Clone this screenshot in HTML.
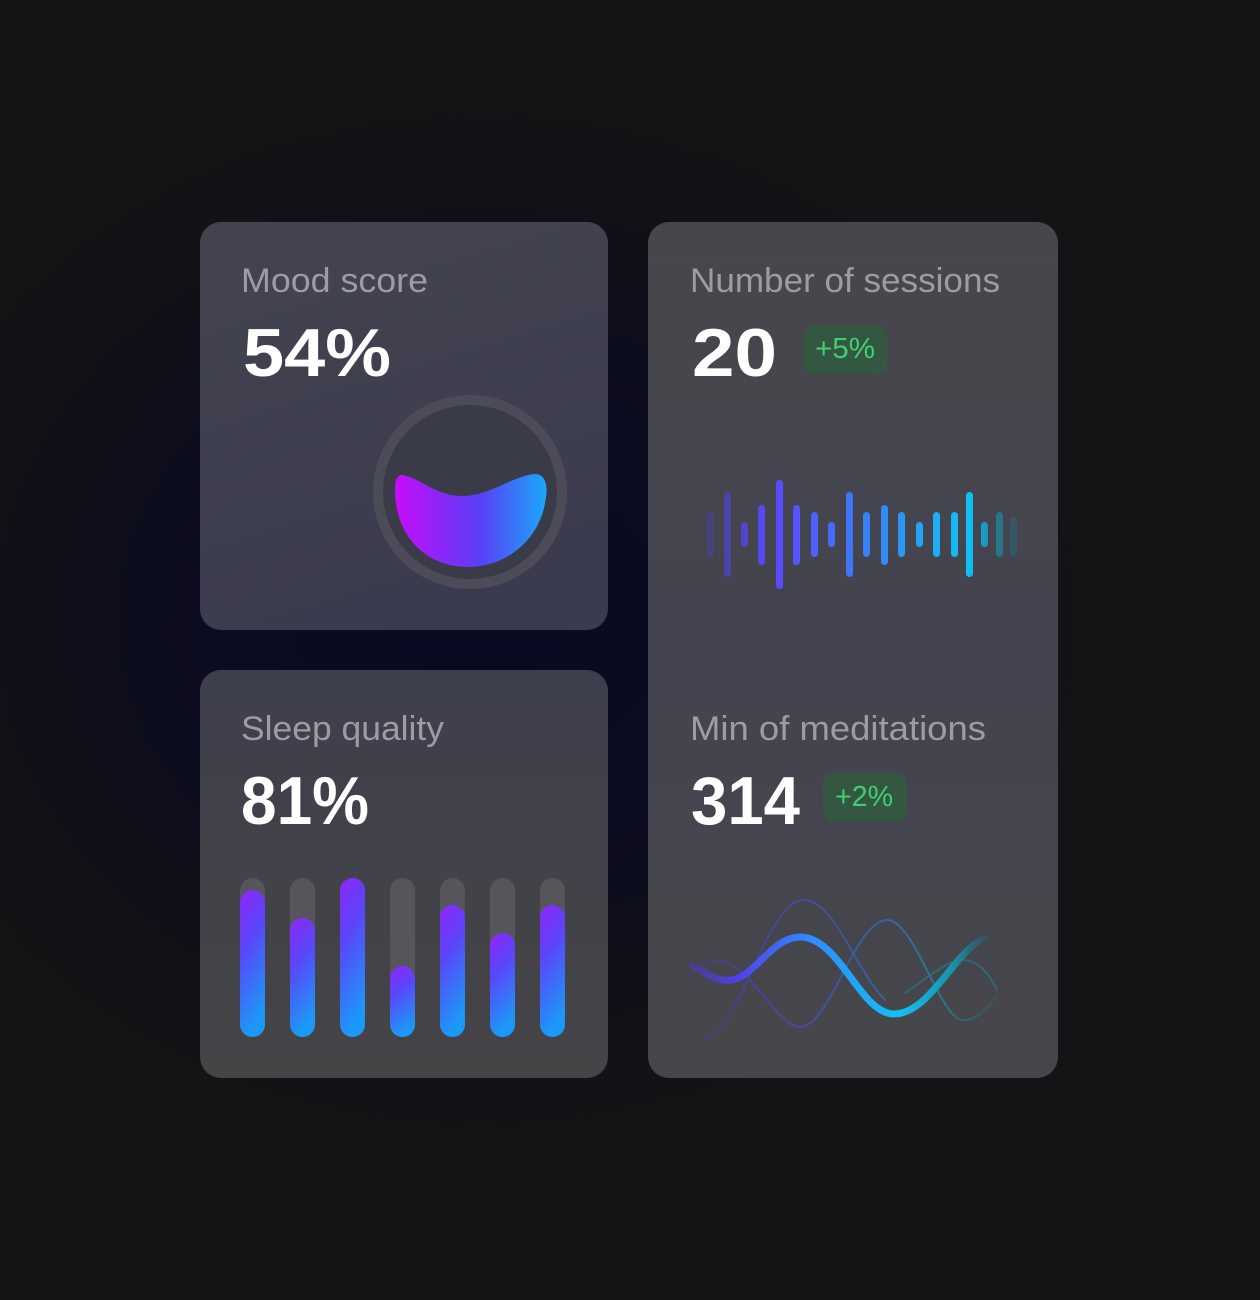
<!DOCTYPE html>
<html>
<head>
<meta charset="utf-8">
<style>
  html,body{margin:0;padding:0;background:#141416;}
  svg{display:block;}
  text{font-family:"Liberation Sans", sans-serif;}
</style>
</head>
<body>
<svg width="1260" height="1300" viewBox="0 0 1260 1300" xmlns="http://www.w3.org/2000/svg">
  <defs>
    <radialGradient id="bgGlow" cx="480" cy="620" r="620" gradientUnits="userSpaceOnUse" gradientTransform="translate(480 620) scale(1 0.85) translate(-480 -620)">
      <stop offset="0" stop-color="#080a22"/>
      <stop offset="0.45" stop-color="#0b0c1f"/>
      <stop offset="0.8" stop-color="#111118"/>
      <stop offset="1" stop-color="#141416"/>
    </radialGradient>
    <linearGradient id="card1" x1="0" y1="0" x2="0.3" y2="1">
      <stop offset="0" stop-color="#444450"/>
      <stop offset="1" stop-color="#3a3b4e"/>
    </linearGradient>
    <linearGradient id="card3" x1="0" y1="0" x2="0" y2="1">
      <stop offset="0" stop-color="#3e3f4c"/>
      <stop offset="1" stop-color="#454547"/>
    </linearGradient>
    <linearGradient id="card2" x1="0" y1="0" x2="0" y2="1">
      <stop offset="0" stop-color="#47474b"/>
      <stop offset="0.5" stop-color="#434450"/>
      <stop offset="1" stop-color="#46464a"/>
    </linearGradient>
    <linearGradient id="blob" x1="395" y1="0" x2="548" y2="0" gradientUnits="userSpaceOnUse">
      <stop offset="0" stop-color="#c70cfb"/>
      <stop offset="0.55" stop-color="#5a3ef6"/>
      <stop offset="1" stop-color="#18aaf9"/>
    </linearGradient>
    <linearGradient id="bar" x1="0" y1="0" x2="0.25" y2="1">
      <stop offset="0" stop-color="#9126fb"/>
      <stop offset="0.4" stop-color="#5a45f8"/>
      <stop offset="1" stop-color="#1c98f8"/>
    </linearGradient>
    <linearGradient id="wave" x1="705" y1="0" x2="1015" y2="0" gradientUnits="userSpaceOnUse">
      <stop offset="0" stop-color="#4a3fc8"/>
      <stop offset="0.25" stop-color="#5a4cff"/>
      <stop offset="0.5" stop-color="#3a7cf8"/>
      <stop offset="0.85" stop-color="#10c2f4"/>
      <stop offset="1" stop-color="#167f95"/>
    </linearGradient>
    <linearGradient id="mainLine" x1="690" y1="0" x2="990" y2="0" gradientUnits="userSpaceOnUse">
      <stop offset="0" stop-color="#4a3ac0" stop-opacity="0.5"/>
      <stop offset="0.15" stop-color="#5040e0"/>
      <stop offset="0.4" stop-color="#2f8bff"/>
      <stop offset="0.7" stop-color="#12c0f2"/>
      <stop offset="0.88" stop-color="#1a90a8"/>
      <stop offset="1" stop-color="#1a7080" stop-opacity="0.2"/>
    </linearGradient>
    <linearGradient id="thinLine" x1="690" y1="0" x2="1000" y2="0" gradientUnits="userSpaceOnUse">
      <stop offset="0" stop-color="#4a3ab8" stop-opacity="0.3"/>
      <stop offset="0.2" stop-color="#4c3eb8"/>
      <stop offset="0.55" stop-color="#3a60c0"/>
      <stop offset="0.8" stop-color="#1f8aa6"/>
      <stop offset="1" stop-color="#1a7a90" stop-opacity="0.3"/>
    </linearGradient>
  </defs>

  <rect width="1260" height="1300" fill="#141416"/>
  <rect width="1260" height="1300" fill="url(#bgGlow)"/>

  <!-- Cards -->
  <rect x="200" y="222" width="408" height="408" rx="21" fill="url(#card1)"/>
  <rect x="200" y="670" width="408" height="408" rx="21" fill="url(#card3)"/>
  <rect x="648" y="222" width="410" height="856" rx="21" fill="url(#card2)"/>

  <!-- Mood score -->
  <text x="241" y="292" font-size="34" fill="#9c9ca5" textLength="187" lengthAdjust="spacingAndGlyphs">Mood score</text>
  <text x="243" y="376" font-size="68" font-weight="bold" fill="#ffffff" textLength="148" lengthAdjust="spacingAndGlyphs">54%</text>
  <circle cx="470" cy="492" r="92" fill="#3a3b48" stroke="#4b4c58" stroke-width="10"/>
  <path d="M403 475 C420 478 436 496 462 496 C490 496 512 476 535 474 C545 474 548 485 546 497 C541 540 506 567 468 567 C425 567 395 535 395 490 C395 479 398 474 403 475 Z" fill="url(#blob)"/>

  <!-- Sleep quality -->
  <text x="241" y="740" font-size="34" fill="#9c9ca5" textLength="203" lengthAdjust="spacingAndGlyphs">Sleep quality</text>
  <text x="241" y="824" font-size="68" font-weight="bold" fill="#ffffff" textLength="128" lengthAdjust="spacingAndGlyphs">81%</text>
  <g>
    <rect x="240" y="878" width="25" height="159" rx="12.5" fill="#55555b"/>
    <rect x="290" y="878" width="25" height="159" rx="12.5" fill="#55555b"/>
    <rect x="340" y="878" width="25" height="159" rx="12.5" fill="#55555b"/>
    <rect x="390" y="878" width="25" height="159" rx="12.5" fill="#55555b"/>
    <rect x="440" y="878" width="25" height="159" rx="12.5" fill="#55555b"/>
    <rect x="490" y="878" width="25" height="159" rx="12.5" fill="#55555b"/>
    <rect x="540" y="878" width="25" height="159" rx="12.5" fill="#55555b"/>
    <rect x="240" y="890" width="25" height="147" rx="12.5" fill="url(#bar)"/>
    <rect x="290" y="918" width="25" height="119" rx="12.5" fill="url(#bar)"/>
    <rect x="340" y="878" width="25" height="159" rx="12.5" fill="url(#bar)"/>
    <rect x="390" y="966" width="25" height="71" rx="12.5" fill="url(#bar)"/>
    <rect x="440" y="905" width="25" height="132" rx="12.5" fill="url(#bar)"/>
    <rect x="490" y="933" width="25" height="104" rx="12.5" fill="url(#bar)"/>
    <rect x="540" y="905" width="25" height="132" rx="12.5" fill="url(#bar)"/>
  </g>

  <!-- Number of sessions -->
  <text x="690" y="292" font-size="34" fill="#9c9ca5" textLength="310" lengthAdjust="spacingAndGlyphs">Number of sessions</text>
  <text x="692" y="376" font-size="68" font-weight="bold" fill="#ffffff" textLength="85" lengthAdjust="spacingAndGlyphs">20</text>
  <rect x="803" y="325" width="84" height="49" rx="11" fill="#345742"/>
  <text x="815" y="358" font-size="29" fill="#3ed070" textLength="60" lengthAdjust="spacingAndGlyphs">+5%</text>

  <!-- waveform bars -->
  <g fill="url(#wave)">
    <rect x="707" y="512" width="7" height="45" rx="3.5" opacity="0.35"/>
    <rect x="724" y="492" width="7" height="85" rx="3.5" opacity="0.65"/>
    <rect x="741" y="522" width="7" height="25" rx="3.5" opacity="0.85"/>
    <rect x="758" y="505" width="7" height="60" rx="3.5"/>
    <rect x="776" y="480" width="7" height="109" rx="3.5"/>
    <rect x="793" y="505" width="7" height="60" rx="3.5"/>
    <rect x="811" y="512" width="7" height="45" rx="3.5"/>
    <rect x="828" y="522" width="7" height="25" rx="3.5"/>
    <rect x="846" y="492" width="7" height="85" rx="3.5"/>
    <rect x="863" y="512" width="7" height="45" rx="3.5"/>
    <rect x="881" y="505" width="7" height="60" rx="3.5"/>
    <rect x="898" y="512" width="7" height="45" rx="3.5"/>
    <rect x="916" y="522" width="7" height="25" rx="3.5"/>
    <rect x="933" y="512" width="7" height="45" rx="3.5"/>
    <rect x="951" y="512" width="7" height="45" rx="3.5"/>
    <rect x="966" y="492" width="7" height="85" rx="3.5"/>
    <rect x="981" y="522" width="7" height="25" rx="3.5" opacity="0.85"/>
    <rect x="996" y="512" width="7" height="45" rx="3.5" opacity="0.6"/>
    <rect x="1010" y="517" width="7" height="40" rx="3.5" opacity="0.3"/>
  </g>

  <!-- Min of meditations -->
  <text x="690" y="740" font-size="34" fill="#9c9ca5" textLength="296" lengthAdjust="spacingAndGlyphs">Min of meditations</text>
  <text x="691" y="824" font-size="68" font-weight="bold" fill="#ffffff" textLength="109" lengthAdjust="spacingAndGlyphs">314</text>
  <rect x="823" y="773" width="84" height="49" rx="11" fill="#345742"/>
  <text x="835" y="806" font-size="29" fill="#3ed070" textLength="58" lengthAdjust="spacingAndGlyphs">+2%</text>

  <!-- waves -->
  <g fill="none" stroke-linecap="round">
    <path d="M705 1040 C740 1030 768 900 803 900 C835 900 852 965 885 1000" stroke="url(#thinLine)" stroke-width="2" opacity="0.7"/>
    <path d="M690 975 C705 958 725 955 745 975 C770 1000 784 1027 800 1027 C830 1027 855 920 887 920 C915 920 940 1020 963 1020 C980 1020 990 1005 997 995" stroke="url(#thinLine)" stroke-width="2" opacity="0.75"/>
    <path d="M905 993 C930 976 950 958 965 960 C980 962 990 975 997 990" stroke="#1f7f95" stroke-width="2" opacity="0.6"/>
    <path d="M692 965 C706 973 716 982 731 980 C756 976 772 937 800 937 C840 937 860 1014 894 1014 C930 1014 955 950 985 938" stroke="url(#mainLine)" stroke-width="7"/>
  </g>
</svg>
</body>
</html>
